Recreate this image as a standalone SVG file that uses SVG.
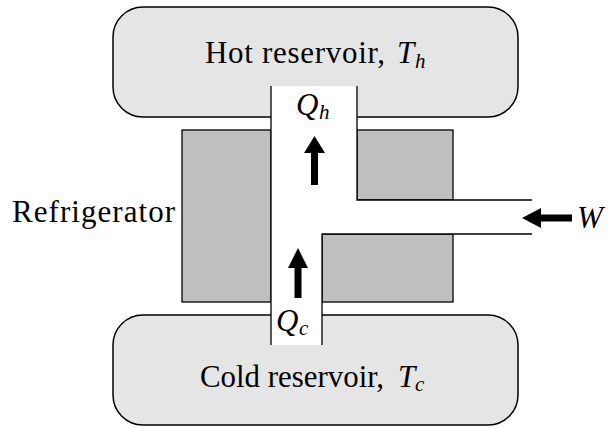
<svg xmlns="http://www.w3.org/2000/svg" width="608" height="428" viewBox="0 0 608 428">
<style>
.res{fill:#e5e5e5;stroke:#000;stroke-width:1.5}
.blk{fill:#bfbfbf;stroke:#000;stroke-width:1.3}
.ln{fill:none;stroke:#000;stroke-width:1.3}
.t{font-family:'Liberation Serif','Times New Roman',serif;font-size:31px;fill:#000}
.i{font-style:italic}
.s{font-size:21px}
.arr{fill:#000;stroke:none}
</style>
<rect width="608" height="428" fill="#fff"/>
<g id="hot-reservoir">
<rect class="res" x="113" y="7" width="405" height="110" rx="30"/>
<text class="t" x="205" y="63" textLength="180" lengthAdjust="spacing">Hot reservoir,</text>
<text class="t i" x="397" y="63">T</text>
<text class="t i s" x="415" y="68">h</text>
</g>
<g id="cold-reservoir">
<rect class="res" x="113" y="315" width="405" height="110" rx="30"/>
<text class="t" x="200" y="387" textLength="184" lengthAdjust="spacingAndGlyphs">Cold reservoir,</text>
<text class="t i" x="398" y="387">T</text>
<text class="t i s" x="415" y="391">c</text>
</g>
<g id="refrigerator">
<rect class="blk" x="182" y="130" width="89" height="172"/>
<rect class="blk" x="357" y="130" width="96" height="70"/>
<rect class="blk" x="322" y="234" width="131" height="68"/>
<text class="t" x="12" y="222" textLength="163" lengthAdjust="spacing">Refrigerator</text>
</g>
<g id="channel">
<polygon points="271,86 357,86 357,200 532,200 532,234 322,234 322,345 271,345" fill="#fff" stroke="none"/>
<path class="ln" d="M271,86V345M357,86V200H532M532,234H322V345"/>
<text class="t i" x="296" y="115">Q</text>
<text class="t i s" x="319" y="119">h</text>
<text class="t i" x="276" y="331">Q</text>
<text class="t i s" x="299" y="335">c</text>
<text class="t i" x="577" y="228">W</text>
</g>
<g id="connectors">
<polygon class="arr" points="314.5,136 325,153 318,153 318,185 311,185 311,153 304,153"/>
<polygon class="arr" points="298,248 308,268 301.5,268 301.5,298 294.5,298 294.5,268 288,268"/>
<polygon class="arr" points="522,218 541,208 541,214.5 572,214.5 572,221.5 541,221.5 541,228"/>
</g>
</svg>
